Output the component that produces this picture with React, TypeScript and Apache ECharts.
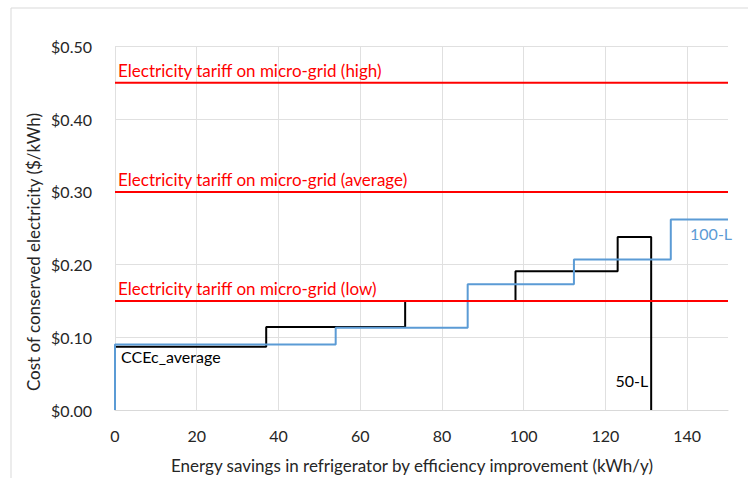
import React, { useEffect, useRef } from "react";
import * as echarts from "echarts";

const tariffLevels = [0.15, 0.3, 0.45];
const tariffLabels = [
  "Electricity tariff on micro-grid (low)",
  "Electricity tariff on micro-grid (average)",
  "Electricity tariff on micro-grid (high)",
];
const xRange = [0, 150];

// 50-L step curve (x where each step starts, cost of the step)
const steps50X = [0, 37, 71, 98, 123, 131.2];
const steps50Y = [0.087, 0.114, 0.15, 0.191, 0.238, 0];

// 100-L step curve
const steps100X = [0, 0, 54, 86.3, 112.3, 136, 150];
const steps100Y = [0, 0.09, 0.113, 0.173, 0.207, 0.262, 0.262];

const xTitle = "Energy savings in refrigerator by efficiency improvement (kWh/y)";
const yTitle = "Cost of conserved electricity ($/kWh)";

const FONT = "Lato, 'Open Sans', sans-serif";

export default function App() {
  const ref = useRef<HTMLDivElement>(null);
  useEffect(() => {
    if (!ref.current) return;
    const chart = echarts.init(ref.current, undefined, { renderer: "svg" });
    const black = steps50X.map((x, i) => [x, steps50Y[i]]);
    const blue = steps100X.map((x, i) => [x, steps100Y[i]]);
    const redSeries = tariffLevels.map((lv, i) => ({
      type: "line",
      data: [
        [xRange[0], lv],
        [xRange[1], lv],
      ],
      symbol: "none",
      lineStyle: { color: "#FF0000", width: 2 },
      z: 5,
      markPoint: {
        symbol: "circle",
        symbolSize: 0.1,
        silent: true,
        data: [
          {
            coord: [xRange[0], lv],
            label: {
              show: true,
              formatter: tariffLabels[i],
              position: "right",
              distance: 3,
              offset: [0, -12],
              color: "#FF0000",
              fontSize: 17,
              fontFamily: FONT,
            },
          },
        ],
      },
    }));
    chart.setOption({
      animation: false,
      grid: { left: 115, right: 20, top: 46.5, bottom: 68 },
      xAxis: {
        type: "value",
        min: xRange[0],
        max: xRange[1],
        interval: 20,
        axisLine: { show: true, lineStyle: { color: "#d9d9d9", width: 1 } },
        axisTick: { show: false },
        axisLabel: {
          color: "#262626",
          fontSize: 16,
          fontFamily: FONT,
          margin: 17,
          formatter: (v: number) => (v > 140 ? "" : String(v)),
        },
        splitLine: {
          show: true,
          lineStyle: {
            color: ["#e0e0e0", "#e0e0e0", "#e0e0e0", "#e0e0e0", "#e0e0e0", "#e0e0e0", "#e0e0e0", "#e0e0e0", "rgba(0,0,0,0)"],
            width: 1,
          },
        },
      },
      yAxis: {
        type: "value",
        min: 0,
        max: 0.5,
        interval: 0.1,
        axisLine: { show: false },
        axisTick: { show: false },
        axisLabel: {
          color: "#262626",
          fontSize: 16,
          fontFamily: FONT,
          margin: 23,
          formatter: (v: number) => "$" + v.toFixed(2),
        },
        splitLine: { show: true, lineStyle: { color: "#e0e0e0", width: 1 } },
      },
      graphic: [
        {
          type: "rect",
          shape: { x: 11, y: 8, width: 760, height: 490 },
          style: { fill: "none", stroke: "#d9d9d9", lineWidth: 1 },
          silent: true,
        },
        {
          type: "text",
          x: 33,
          y: 252,
          rotation: Math.PI / 2,
          style: {
            text: yTitle,
            align: "center",
            verticalAlign: "middle",
            fill: "#262626",
            fontSize: 17,
            fontFamily: FONT,
          },
        },
        {
          type: "text",
          x: 412,
          y: 465,
          style: {
            text: xTitle,
            align: "center",
            verticalAlign: "middle",
            fill: "#262626",
            fontSize: 17,
            fontFamily: FONT,
          },
        },
      ],
      series: [
        {
          type: "line",
          name: "50-L",
          data: black,
          step: "end",
          symbol: "none",
          lineStyle: { color: "#000000", width: 2 },
          z: 3,
          markPoint: {
            symbol: "circle",
            symbolSize: 0.1,
            silent: true,
            data: [
              {
                coord: [steps50X[0], steps50Y[0]],
                label: {
                  show: true,
                  formatter: "CCEc_average",
                  position: "right",
                  distance: 6,
                  offset: [0, 10],
                  color: "#000",
                  fontSize: 16,
                  fontFamily: FONT,
                },
              },
              {
                coord: [steps50X[5], 0.04],
                label: {
                  show: true,
                  formatter: "50-L",
                  position: "left",
                  distance: 3,
                  color: "#000",
                  fontSize: 16,
                  fontFamily: FONT,
                },
              },
            ],
          },
        },
        {
          type: "line",
          name: "100-L",
          data: blue,
          step: "end",
          symbol: "none",
          lineStyle: { color: "#5B9BD5", width: 2 },
          z: 4,
          markPoint: {
            symbol: "circle",
            symbolSize: 0.1,
            silent: true,
            data: [
              {
                coord: [140.7, 0.243],
                label: {
                  show: true,
                  formatter: "100-L",
                  position: "right",
                  distance: 0,
                  color: "#5B9BD5",
                  fontSize: 16,
                  fontFamily: FONT,
                },
              },
            ],
          },
        },
        ...redSeries,
      ],
    });
    return () => chart.dispose();
  }, []);
  return (
    <div
      ref={ref}
      style={{ position: "absolute", left: 0, top: 0, width: 748, height: 478, background: "#fff" }}
    />
  );
}
